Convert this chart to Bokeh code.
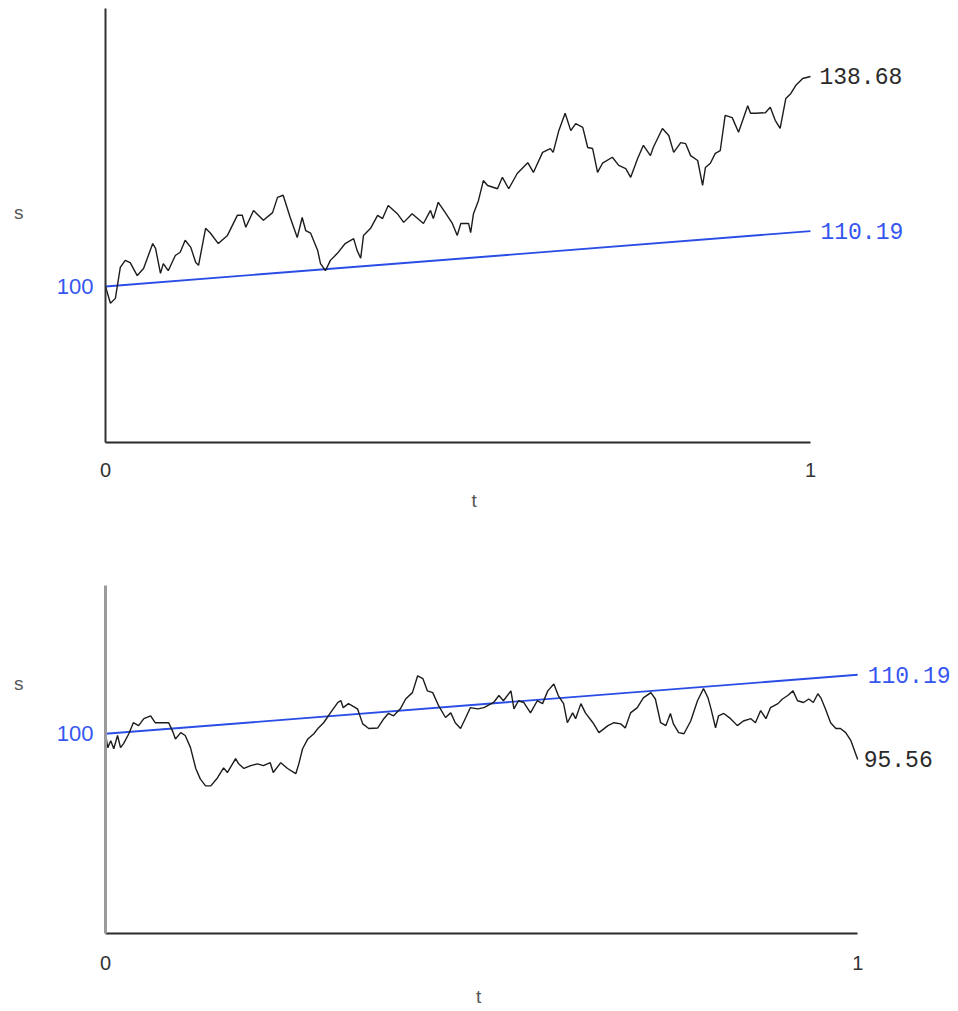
from bokeh.plotting import figure
from bokeh.models import Range1d, FixedTicker, Label, LinearAxis, CustomJSTickFormatter
from bokeh.layouts import column
from bokeh.embed import file_html
from bokeh.resources import INLINE

# ---- data ----
top_t = [0.0, 0.007, 0.014, 0.021, 0.028, 0.035, 0.045, 0.054, 0.067, 0.071, 0.078, 0.082, 0.089, 0.099,
         0.106, 0.113, 0.121, 0.128, 0.132, 0.142, 0.149, 0.160, 0.173, 0.187, 0.194, 0.199, 0.210, 0.224,
         0.237, 0.244, 0.252, 0.262, 0.272, 0.279, 0.284, 0.291, 0.301, 0.305, 0.312, 0.319, 0.329, 0.340,
         0.352, 0.357, 0.362, 0.366, 0.376, 0.386, 0.393, 0.401, 0.414, 0.423, 0.435, 0.451, 0.461, 0.465,
         0.472, 0.482, 0.492, 0.499, 0.504, 0.515, 0.518, 0.522, 0.529, 0.536, 0.542, 0.556, 0.563, 0.572,
         0.584, 0.599, 0.607, 0.620, 0.631, 0.635, 0.643, 0.652, 0.660, 0.667, 0.677, 0.684, 0.691, 0.698,
         0.705, 0.719, 0.728, 0.738, 0.745, 0.755, 0.763, 0.773, 0.777, 0.790, 0.799, 0.806, 0.816, 0.823,
         0.830, 0.840, 0.847, 0.851, 0.858, 0.865, 0.872, 0.879, 0.889, 0.898, 0.911, 0.915, 0.922, 0.936,
         0.943, 0.950, 0.957, 0.965, 0.972, 0.979, 0.989, 1.0]
top_s = [100.0, 96.9, 97.8, 103.5, 104.8, 104.4, 102.0, 103.3, 107.9, 107.0, 102.4, 104.2, 102.9, 105.7,
         106.3, 108.5, 107.2, 104.4, 103.9, 110.7, 109.8, 107.9, 109.4, 113.1, 113.1, 110.9, 114.0, 112.2,
         113.6, 116.4, 116.8, 112.7, 109.0, 112.7, 110.3, 109.8, 106.6, 104.2, 102.9, 104.8, 106.1, 107.9,
         108.8, 106.6, 105.2, 109.4, 110.7, 113.1, 112.5, 114.9, 113.4, 111.8, 113.4, 111.6, 114.0, 112.5,
         115.5, 113.6, 111.6, 109.4, 111.6, 111.6, 109.9, 113.4, 115.8, 119.5, 118.6, 118.0, 120.1, 118.0,
         120.8, 122.8, 121.0, 124.7, 125.4, 124.7, 128.7, 131.9, 128.7, 130.0, 129.3, 125.6, 125.4, 121.0,
         122.7, 123.8, 122.3, 121.7, 120.1, 123.6, 126.0, 124.1, 125.6, 129.1, 127.8, 124.7, 126.5, 126.3,
         124.1, 123.2, 118.6, 121.9, 122.7, 124.5, 125.0, 131.5, 131.1, 128.4, 133.3, 131.9, 131.9, 132.0,
         133.0, 130.6, 129.1, 134.6, 135.5, 137.0, 138.3, 138.68]

bot_t = [0.0, 0.003, 0.007, 0.011, 0.016, 0.020, 0.024, 0.031, 0.037, 0.044, 0.051, 0.060, 0.066, 0.076,
         0.084, 0.089, 0.093, 0.100, 0.106, 0.113, 0.120, 0.126, 0.133, 0.140, 0.149, 0.157, 0.162, 0.173,
         0.177, 0.184, 0.193, 0.202, 0.210, 0.219, 0.223, 0.233, 0.242, 0.253, 0.257, 0.262, 0.269, 0.277,
         0.283, 0.290, 0.299, 0.309, 0.313, 0.316, 0.323, 0.335, 0.342, 0.350, 0.362, 0.370, 0.376, 0.383,
         0.392, 0.399, 0.408, 0.415, 0.422, 0.428, 0.435, 0.443, 0.452, 0.459, 0.465, 0.472, 0.479, 0.485,
         0.495, 0.503, 0.516, 0.523, 0.529, 0.539, 0.543, 0.549, 0.556, 0.565, 0.574, 0.581, 0.588, 0.596,
         0.602, 0.609, 0.614, 0.621, 0.625, 0.632, 0.638, 0.648, 0.656, 0.668, 0.676, 0.685, 0.691, 0.698,
         0.707, 0.715, 0.725, 0.731, 0.738, 0.745, 0.751, 0.755, 0.762, 0.769, 0.778, 0.787, 0.795, 0.801,
         0.805, 0.811, 0.815, 0.822, 0.831, 0.840, 0.848, 0.858, 0.864, 0.871, 0.878, 0.884, 0.894, 0.900,
         0.907, 0.914, 0.920, 0.928, 0.935, 0.941, 0.947, 0.951, 0.957, 0.964, 0.971, 0.977, 0.984, 0.991, 1.0]
bot_s = [100.0, 97.6, 98.8, 97.4, 99.7, 97.6, 98.3, 100.0, 101.9, 101.4, 102.6, 103.1, 101.9, 101.9,
         101.9, 100.5, 99.1, 100.2, 99.7, 97.6, 94.0, 92.2, 91.0, 91.0, 92.4, 94.1, 93.3, 95.7,
         94.8, 94.0, 94.5, 94.8, 94.5, 95.0, 93.3, 95.0, 94.0, 93.1, 94.8, 97.4, 99.1, 100.0,
         101.0, 101.9, 103.6, 105.4, 105.7, 104.5, 105.2, 104.3, 101.7, 100.9, 101.0, 102.6, 103.5, 103.1,
         104.3, 106.0, 107.1, 110.0, 109.5, 107.4, 107.1, 104.8, 102.8, 103.6, 101.9, 100.9, 102.8, 104.5,
         104.3, 104.5, 105.4, 106.6, 105.7, 107.4, 104.3, 105.7, 105.4, 103.6, 105.7, 105.2, 107.4, 108.6,
         106.6, 105.2, 101.9, 103.6, 102.6, 105.2, 103.6, 101.9, 100.2, 101.4, 101.9, 101.7, 101.0, 103.6,
         104.5, 106.2, 107.1, 106.0, 101.9, 101.4, 103.5, 101.7, 100.2, 100.0, 102.2, 105.7, 107.8, 106.2,
         104.3, 101.0, 103.1, 103.5, 102.6, 101.4, 102.2, 102.6, 101.9, 104.0, 102.6, 104.5, 105.2, 106.0,
         106.6, 107.4, 105.7, 105.4, 106.0, 105.4, 106.9, 106.2, 104.3, 101.9, 100.9, 100.9, 100.2, 98.8, 95.56]

mean_t = [0.0, 1.0]
mean_s = [100.0, 110.19]

x_ticks = [0, 1]
y_ticks = [100]

BLUE_LINE = "#2a4de6"
BLUE_TEXT = "#3556f0"
PATH = "#1c1c1c"
SANS = "Liberation Sans"
MONO = "Liberation Mono"


def no_ticks(ax):
    ax.major_tick_line_color = None
    ax.minor_tick_line_color = None
    ax.major_tick_out = 0
    ax.major_tick_in = 0
    ax.minor_tick_out = 0
    ax.minor_tick_in = 0
    ax.axis_label_standoff = 0


def name_axis(text, tick, standoff):
    ax = LinearAxis(ticker=FixedTicker(ticks=[tick]),
                    formatter=CustomJSTickFormatter(code=f"return '{text}'"))
    no_ticks(ax)
    ax.axis_line_color = None
    ax.major_label_text_font = SANS
    ax.major_label_text_font_size = "19px"
    ax.major_label_text_color = "#555555"
    ax.major_label_standoff = standoff
    return ax


def make_panel(t, s, yr, xr_end, height, mb_top, mb_bottom, yaxis_color, yaxis_width,
               s_tick, t_tick, tick_standoff, t_standoff, end_offset):
    p = figure(width=958, height=height, output_backend="svg", toolbar_location=None,
               x_range=Range1d(0, xr_end), y_range=Range1d(*yr),
               min_border_left=105, min_border_right=0,
               min_border_top=mb_top, min_border_bottom=mb_bottom)
    p.outline_line_color = None
    p.grid.visible = False
    p.background_fill_color = "white"

    p.line(mean_t, mean_s, line_color=BLUE_LINE, line_width=1.9)
    p.line(t, s, line_color=PATH, line_width=1.4)

    xa = p.xaxis[0]
    xa.ticker = FixedTicker(ticks=x_ticks)
    xa.bounds = (x_ticks[0], x_ticks[-1])
    no_ticks(xa)
    xa.axis_line_color = "#2a2a2a"
    xa.axis_line_width = 2
    xa.major_label_text_font = SANS
    xa.major_label_text_font_size = "20px"
    xa.major_label_text_color = "#333333"
    xa.major_label_standoff = tick_standoff

    ya = p.yaxis[0]
    ya.ticker = FixedTicker(ticks=y_ticks)
    no_ticks(ya)
    ya.axis_line_color = yaxis_color
    ya.axis_line_width = yaxis_width
    ya.major_label_text_font = SANS
    ya.major_label_text_font_size = "22px"
    ya.major_label_text_color = BLUE_TEXT
    ya.major_label_standoff = 12

    p.add_layout(name_axis("s", s_tick, 30), "left")
    p.add_layout(name_axis("t", t_tick, t_standoff), "below")

    p.add_layout(Label(x=t[-1], y=s[-1], text=f"{s[-1]:.2f}", text_font=MONO,
                       text_font_size="23px", text_color="#2a2a2a", x_offset=end_offset,
                       text_align="left", text_baseline="middle"))
    p.add_layout(Label(x=mean_t[-1], y=mean_s[-1], text=f"{mean_s[-1]:.2f}", text_font=MONO,
                       text_font_size="23px", text_color=BLUE_TEXT, x_offset=10,
                       text_align="left", text_baseline="middle"))
    return p


top = make_panel(top_t, top_s, (71.25, 151.2), 1.21, 532, 8, 90, "#333333", 2, 113.6, 0.523,
                 20, 10, 9)
bot = make_panel(bot_t, bot_s, (65.5, 125.6), 1.134, 477, 53, 76, "#9a9a9a", 3, 108.6, 0.496,
                 22, 13, 6)

layout = column(top, bot, spacing=0)
open("out.html", "w").write(file_html(layout, INLINE))
